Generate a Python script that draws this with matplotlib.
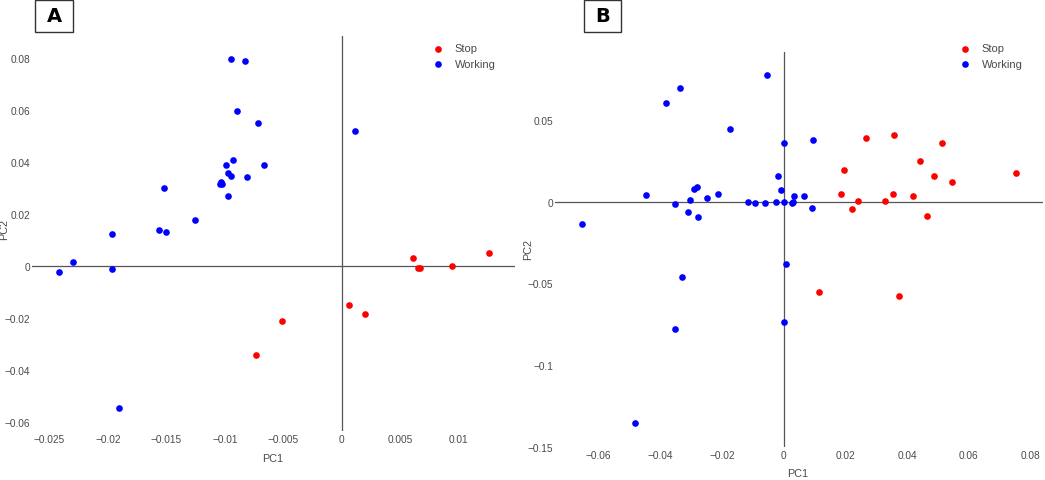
import matplotlib
matplotlib.use("Agg")
import matplotlib.pyplot as plt
from matplotlib.patches import Rectangle

plt.rcParams["font.family"] = ["Liberation Sans", "DejaVu Sans"]

# Panel A scores
a_stop_pc1 = [0.00607, 0.00647, 0.00664, 0.00943, 0.01256, 0.0006, 0.00197, -0.00516, -0.00738]
a_stop_pc2 = [0.00308, -0.0009, -0.00077, 0.0, 0.00474, -0.01526, -0.01859, -0.0214, -0.0345]
a_work_pc1 = [-0.00949, -0.00826, -0.00895, -0.00718, 0.00114, -0.00934, -0.00994, -0.00670,
              -0.00974, -0.00952, -0.00809, -0.01034, -0.01023, -0.0104, -0.00974, -0.01521,
              -0.01254, -0.01561, -0.01507, -0.01966, -0.02302, -0.02422, -0.01966, -0.01909]
a_work_pc2 = [0.0795, 0.0788, 0.0596, 0.0547, 0.0517, 0.0405, 0.0386, 0.0385,
              0.0356, 0.0344, 0.0342, 0.0322, 0.0313, 0.0313, 0.0268, 0.0297,
              0.0177, 0.0137, 0.0129, 0.0122, 0.0015, -0.00256, -0.00141, -0.0549]

# Panel B scores
b_stop_pc1 = [0.0266, 0.03578, 0.05146, 0.0441, 0.01957, 0.04876, 0.0547, 0.07524, 0.0187,
              0.03535, 0.04195, 0.024, 0.03297, 0.02227, 0.04638, 0.01146, 0.03751]
b_stop_pc2 = [0.0392, 0.0412, 0.0363, 0.0253, 0.0194, 0.0157, 0.0120, 0.0178, 0.0051,
              0.0049, 0.0035, 0.0004, 0.0008, -0.0045, -0.0084, -0.0551, -0.0578]
b_work_pc1 = [-0.00551, -0.03351, -0.03805, -0.01751, 0.0, 0.0094, -0.00184, -0.00086,
              -0.04465, -0.03535, -0.03049, -0.02908, -0.02822, -0.02486, -0.0213, -0.03114,
              -0.02778, -0.01146, -0.00919, -0.00605, -0.00238, 0.0002, 0.0027, 0.003,
              0.00335, 0.0067, 0.00908, -0.06519, -0.03308, 0.00065, -0.03535, 0.0002, -0.04832]
b_work_pc2 = [0.0780, 0.0698, 0.0606, 0.0449, 0.0361, 0.0378, 0.0161, 0.0073,
              0.0041, -0.0016, 0.0014, 0.0078, 0.0090, 0.0022, 0.0051, -0.0065,
              -0.0092, 0.0, -0.0006, -0.0006, 0.0, 0.0, -0.0008, 0.0,
              0.0037, 0.0037, -0.0037, -0.01367, -0.0463, -0.0382, -0.0776, -0.0739, -0.1357]

a_xticks = [-0.025, -0.02, -0.015, -0.01, -0.005, 0, 0.005, 0.01]
a_yticks = [-0.06, -0.04, -0.02, 0, 0.02, 0.04, 0.06, 0.08]
b_xticks = [-0.06, -0.04, -0.02, 0, 0.02, 0.04, 0.06, 0.08]
b_yticks = [-0.15, -0.1, -0.05, 0, 0.05]

W, H = 1045, 481
grey = "#555555"
text_grey = "#4a4a4a"


def fmt(v):
    return f"{v:g}".replace("-", "\u2212")


def px_axes(fig, left, top, right, bottom):
    return fig.add_axes([left / W, 1 - bottom / H, (right - left) / W, (bottom - top) / H])


def panel(ax, stop_x, stop_y, work_x, work_y, xlim, ylim, xticks, yticks, leg_xy, xlab_xy, ylab_xy):
    ax.axhline(0, color=grey, lw=0.9, zorder=1)
    ax.axvline(0, color=grey, lw=0.9, zorder=1)
    ax.scatter(stop_x, stop_y, s=23, color="#ff0000", label="Stop", zorder=3, linewidths=0)
    ax.scatter(work_x, work_y, s=23, color="#0000ff", label="Working", zorder=3, linewidths=0)
    ax.set_xlim(xlim)
    ax.set_ylim(ylim)
    ax.set_xticks(xticks)
    ax.set_xticklabels([fmt(t) for t in xticks])
    ax.set_yticks(yticks)
    ax.set_yticklabels([fmt(t) for t in yticks])
    ax.tick_params(length=0, labelsize=7.3, labelcolor=text_grey)
    ax.tick_params(axis="x", pad=2)
    ax.tick_params(axis="y", pad=1.5)
    for sp in ax.spines.values():
        sp.set_visible(False)
    ax.set_xlabel("PC1", fontsize=7.8, color=text_grey)
    ax.set_ylabel("PC2", fontsize=7.8, color=text_grey)
    ax.xaxis.set_label_coords(xlab_xy[0] / W, 1 - xlab_xy[1] / H, transform=fig.transFigure)
    ax.yaxis.set_label_coords(ylab_xy[0] / W, 1 - ylab_xy[1] / H, transform=fig.transFigure)
    ax.xaxis.label.set_va("center")
    ax.yaxis.label.set_va("center")
    ax.legend(loc="upper left", bbox_to_anchor=(leg_xy[0] / W, 1 - leg_xy[1] / H),
              bbox_transform=fig.transFigure, frameon=False, borderpad=0, borderaxespad=0,
              handlelength=1, handletextpad=1.0, labelspacing=0.45, fontsize=8,
              labelcolor=text_grey, scatterpoints=1)


def tag(fig, letter, left, top, right, bottom):
    fig.add_artist(Rectangle((left / W, 1 - bottom / H), (right - left) / W, (bottom - top) / H,
                             transform=fig.transFigure, fill=False, edgecolor="#333333", lw=1))
    fig.text((left + right) / 2 / W, 1 - (top + bottom) / 2 / H, letter, ha="center", va="center",
             fontsize=14, fontweight="bold", color="black", family="DejaVu Sans")


fig = plt.figure(figsize=(W / 100, H / 100), dpi=100)

ax_a = px_axes(fig, 32, 37, 515, 432)
panel(ax_a, a_stop_pc1, a_stop_pc2, a_work_pc1, a_work_pc2,
      (-0.0265, 0.0148), (-0.0636, 0.0883), a_xticks, a_yticks,
      (432.5, 44.5), (273, 459), (4, 230))

ax_b = px_axes(fig, 555, 53, 1043, 448)
panel(ax_b, b_stop_pc1, b_stop_pc2, b_work_pc1, b_work_pc2,
      (-0.0741, 0.0841), (-0.1502, 0.0918), b_xticks, b_yticks,
      (959.5, 44.5), (798, 474), (528, 250))

tag(fig, "A", 35, 1, 73, 33)
tag(fig, "B", 584, 1, 621, 33)

fig.savefig("out.png", dpi=100)
